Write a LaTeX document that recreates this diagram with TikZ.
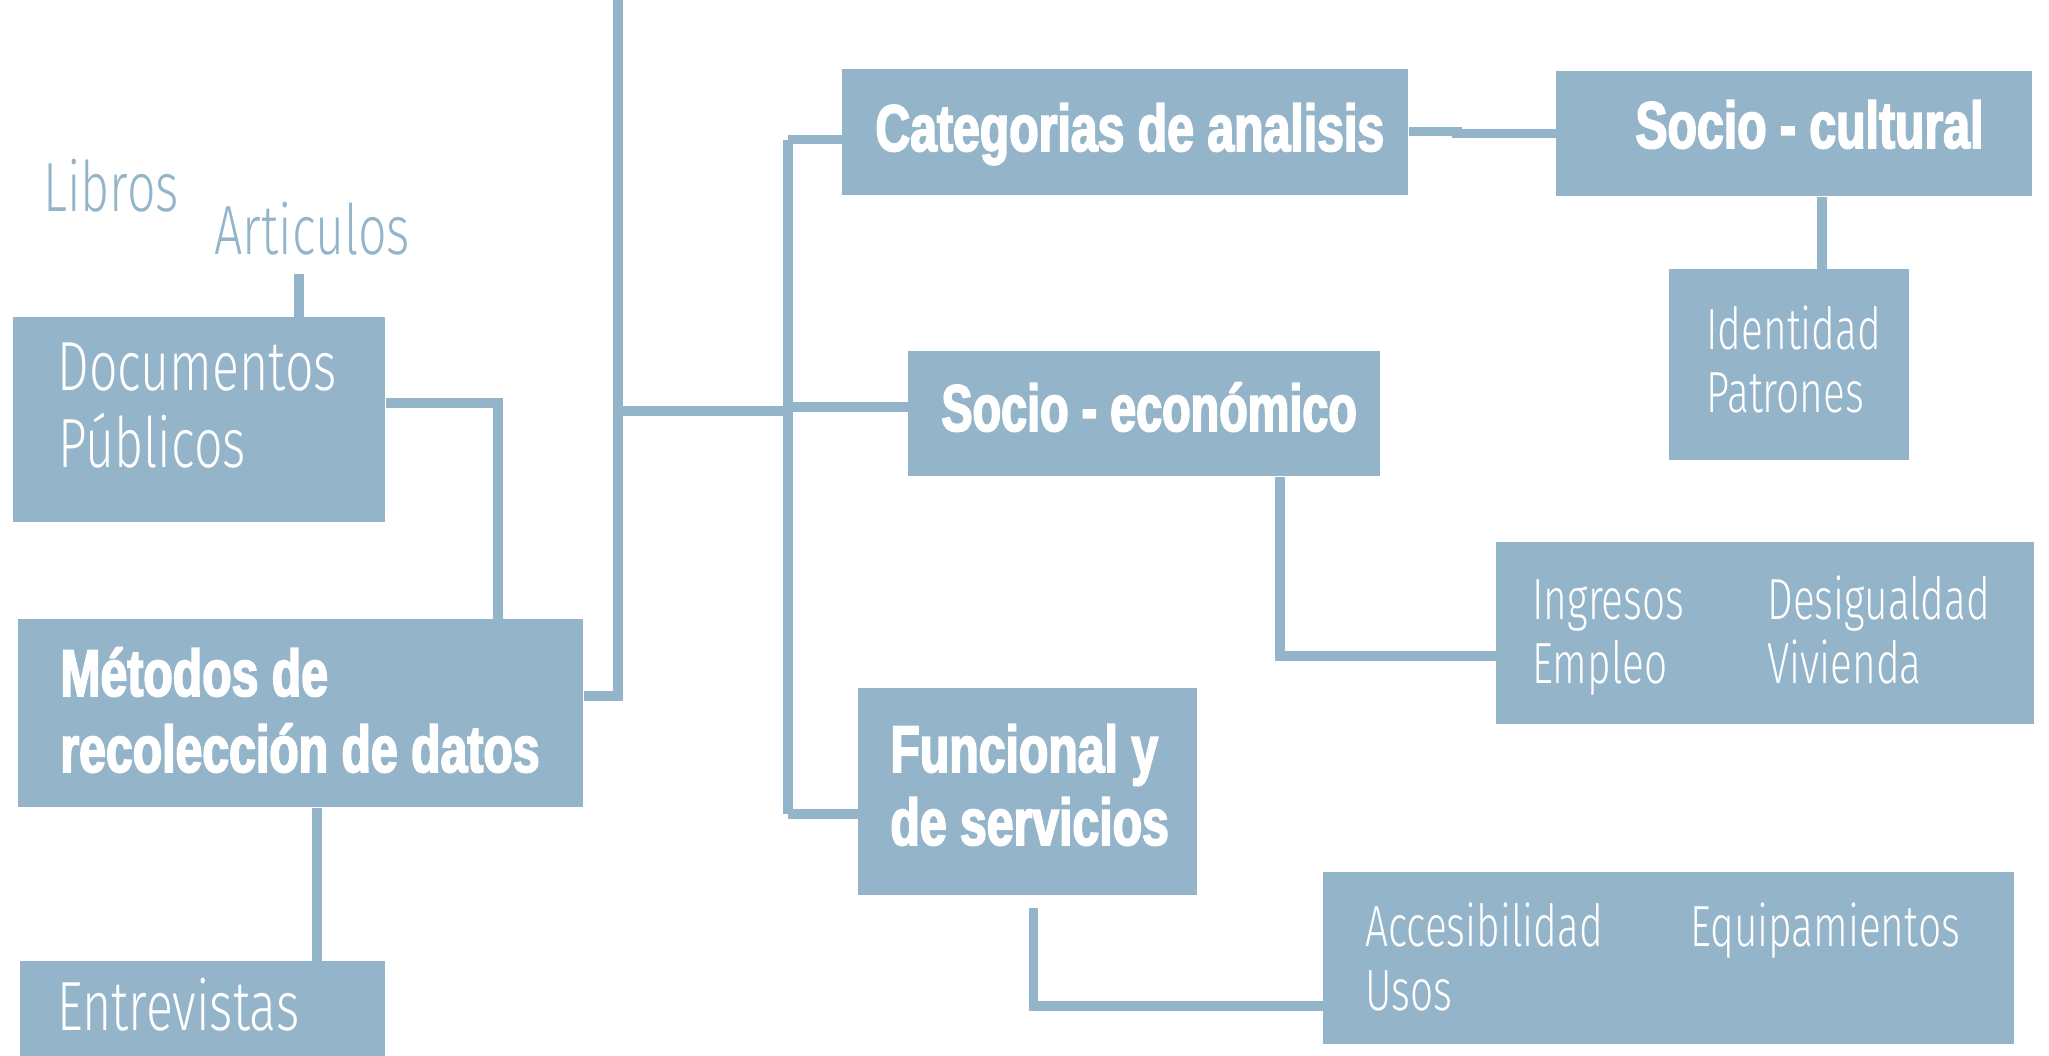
\documentclass[tikz,border=0pt]{standalone}
\usepackage{fontspec}
\newfontfamily\lightfont{Fira Sans}[UprightFont={* Light},FakeStretch=0.72]
\newfontfamily\lightfontsm{Fira Sans}[UprightFont={* Light},FakeStretch=0.70]
\newfontfamily\heavyfont{Liberation Sans Bold}[FakeStretch=0.73,FakeBold=2.6]
\definecolor{bl}{RGB}{147,180,201}
\tikzset{
  bx/.style 2 args={draw=none,fill=bl,inner sep=0,anchor=north west,
    minimum width=#1*0.5pt,minimum height=#2*0.5pt},
  ln/.style={draw=bl,line width=4.6pt},
  ltbig/.style={anchor=base west,inner sep=0,text=white,font=\lightfont\fontsize{34.8}{40}\selectfont},
  ltsmall/.style={anchor=base west,inner sep=0,text=white,font=\lightfontsm\fontsize{29}{34}\selectfont},
  ltblue/.style={ltbig,text=bl},
  hv/.style={anchor=base west,inner sep=0,text=white,font=\heavyfont\fontsize{33}{38}\selectfont},
}
\begin{document}
\begin{tikzpicture}[x=0.5pt,y=-0.5pt]
\useasboundingbox (0,0) rectangle (2049,1055);
% boxes
\node[bx={372}{205}] (doc) at (13,317) {};
\node[bx={565}{188}] (met) at (18,619) {};
\node[bx={365}{110}] (ent) at (20,961) {};
\node[bx={566}{126}] (cat) at (842,69) {};
\node[bx={472}{125}] (soe) at (908,351) {};
\node[bx={339}{207}] (fun) at (858,688) {};
\node[bx={476}{125}] (soc) at (1556,71) {};
\node[bx={240}{191}] (ide) at (1669,269) {};
\node[bx={538}{182}] (ing) at (1496,542) {};
\node[bx={691}{172}] (acc) at (1323,872) {};
% coordinates
\coordinate (top) at (618,0);
\coordinate (jA) at (618,411);
\coordinate (jB) at (788,411);
\coordinate (jB2) at (788,407);
\coordinate (jtop) at (788,139.5);
\coordinate (jbot) at (788,814);
\coordinate (k1) at (1462,131.7);
\coordinate (k2) at (1452,133.3);
\coordinate (fstart) at (1033.5,908);
\coordinate (artend) at (299,274);
% connectors
\draw[ln] (met.east |- 0,696) -| (top);
\draw[ln] (jA) -- (jB);
\draw[ln] (jB2) -- (soe.west |- jB2);
\draw[ln] (jtop) -- (jbot);
\draw[ln] (jtop) -- (cat.west |- jtop);
\draw[ln] (jbot) -- (fun.west |- jbot);
\draw[ln] (cat.east |- k1) -- (k1);
\draw[ln] (k2) -- (soc.west |- k2);
\draw[ln] (soc.south -| 1822,0) -- (ide.north -| 1822,0);
\draw[ln] (soe.south -| 1280,0) |- (ing.west |- 0,656);
\draw[ln] (fstart) |- (acc.west |- 0,1006);
\draw[ln] (doc.east |- 0,403) -| (met.north -| 498,0);
\draw[ln] (artend) -- (doc.north -| artend);
\draw[ln] (met.south -| 317,0) -- (ent.north -| 317,0);
% texts
\node[ltblue] (tlib) at (43,211) {Libros};
\node[ltblue] (tart) at (214,254) {Articulos};
\node[ltbig] (tdoc1) at (57,390) {Documentos};
\node[ltbig] (tdoc2) at (58,467) {Públicos};
\node[ltbig] (tent) at (57,1030) {Entrevistas};
\node[hv] (tmet1) at (60,696) {Métodos de};
\node[hv] (tmet2) at (60,772) {recolección de datos};
\node[hv] (tcat) at (875,151) {Categorias de analisis};
\node[hv] (tsoc) at (1635,148) {Socio - cultural};
\node[hv,xscale=0.97] (tsoe) at (941,431) {Socio - económico};
\node[hv] (tfun1) at (890,772) {Funcional y};
\node[hv] (tfun2) at (890,845) {de servicios};
\node[ltsmall] (tide1) at (1706,349) {Identidad};
\node[ltsmall] (tide2) at (1706,412) {Patrones};
\node[ltsmall] (ting1) at (1532,619) {Ingresos};
\node[ltsmall] (ting2) at (1532,683) {Empleo};
\node[ltsmall] (ting3) at (1767,619) {Desigualdad};
\node[ltsmall] (ting4) at (1767,683) {Vivienda};
\node[ltsmall] (tacc1) at (1365,946) {Accesibilidad};
\node[ltsmall] (tacc2) at (1365,1010) {Usos};
\node[ltsmall] (tacc3) at (1690,946) {Equipamientos};
\end{tikzpicture}
\end{document}
